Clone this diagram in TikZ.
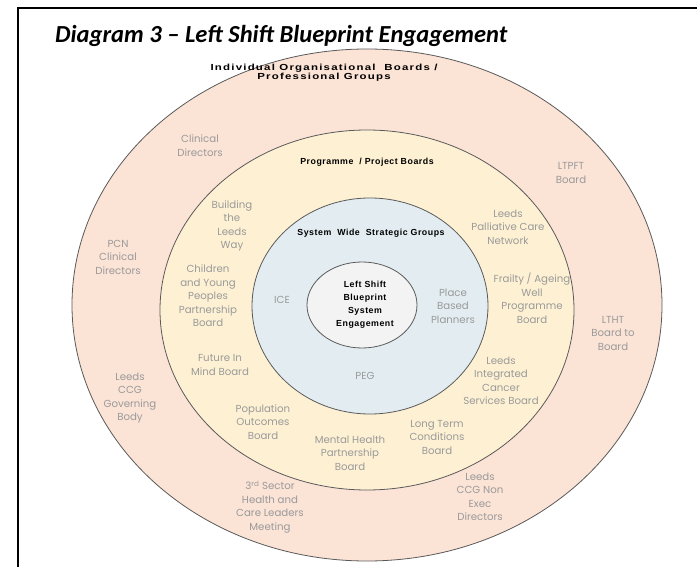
\documentclass[tikz,border=0pt]{standalone}
\usepackage{fontspec}
\setmainfont{Poppins}
\newfontfamily\titlefont{Carlito}
\newfontfamily\headfont[LetterSpace=6]{Liberation Sans}
\newfontfamily\wideheadfont[LetterSpace=14, FakeStretch=1.3]{Liberation Sans}
\definecolor{cpeach}{HTML}{FBE3D6}
\definecolor{ccream}{HTML}{FEF1D3}
\definecolor{cice}{HTML}{E3EDF1}
\definecolor{ccore}{HTML}{F3F3F3}
\definecolor{cline}{HTML}{5A5A5A}
\definecolor{clabel}{HTML}{9A9A9A}

\begin{document}
\begin{tikzpicture}[x=1pt, y=-1pt,
  ring/.style={draw=cline, line width=0.8pt},
  lbl/.style={text=clabel, align=center, inner sep=0pt, font=\fontsize{10.2}{13.5}\selectfont},
  head/.style={align=center, inner sep=0pt, font=\headfont\bfseries\fontsize{8.8}{9.5}\selectfont}]
\useasboundingbox (0,0) rectangle (697,567);
% open frame, cut at the right and at the bottom
\draw[line width=2pt] (697,8) -- (18,8) -- (18,567);
\node[anchor=west, inner sep=0pt, font=\titlefont\bfseries\itshape\fontsize{24.5}{28}\selectfont]
  (title) at (55,36) {Diagram 3 – Left Shift Blueprint Engagement};

%% ------------------------------------------------------------------ rings
\draw[ring, fill=cpeach] (367,305) ellipse [x radius=295pt, y radius=256pt];
\draw[ring, fill=ccream] (367,310) ellipse [x radius=207pt, y radius=180pt];
\draw[ring, fill=cice] (370,306) ellipse [x radius=118pt, y radius=108pt];
\draw[ring, fill=ccore] (362,305) ellipse [x radius=55pt, y radius=43pt];

%% ------------------------------------------------------------------ outer ring
\node[head, font=\wideheadfont\bfseries\fontsize{8.8}{9.5}\selectfont] (orgs) at (324,72.5)
  {Individual Organisational\ \ Boards /\\ Professional Groups};
\node[lbl] (clindir) at (200,145.5) {Clinical\\ Directors};
\node[lbl] (ltpft) at (571,173) {LTPFT\\ Board};
\node[lbl] (pcn) at (118,257) {PCN\\ Clinical\\ Directors};
\node[lbl] (ltht) at (613,333) {LTHT\\ Board to\\ Board};
\node[lbl] (ccggov) at (130,398) {Leeds\\ CCG\\ Governing\\ Body};
\node[lbl] (thirdsec) at (270,507) {3\textsuperscript{rd} Sector\\ Health and\\ Care Leaders\\ Meeting};
\node[lbl] (ccgnon) at (480,497) {Leeds\\ CCG Non\\ Exec\\ Directors};

%% ------------------------------------------------------------------ programme ring
\node[head] (progs) at (367,162) {Programme\ \ / Project Boards};
\node[lbl] (leedsway) at (232,226) {Building\\ the\\ Leeds\\ Way};
\node[lbl] (palliative) at (508,227) {Leeds\\ Palliative Care\\ Network};
\node[lbl] (cyp) at (208,296) {Children\\ and Young\\ Peoples\\ Partnership\\ Board};
\node[lbl] (frailty) at (532,298) {Frailty / Ageing\\ Well\\ Programme\\ Board};
\node[lbl] (fim) at (220,365) {Future In\\ Mind Board};
\node[lbl] (cancer) at (501,381) {Leeds\\ Integrated\\ Cancer\\ Services Board};
\node[lbl] (popout) at (263,422) {Population\\ Outcomes\\ Board};
\node[lbl] (mhp) at (350,453) {Mental Health\\ Partnership\\ Board};
\node[lbl] (ltc) at (437,437) {Long Term\\ Conditions\\ Board};

%% ------------------------------------------------------------------ strategic ring
\node[head] (swsg) at (371,233) {System\ \ Wide\ \ Strategic Groups};
\node[lbl] (ice) at (282,300) {ICE};
\node[lbl] (place) at (453,306) {Place\\ Based\\ Planners};
\node[lbl] (peg) at (365,376) {PEG};

%% ------------------------------------------------------------------ core
\node[head, font=\headfont\bfseries\fontsize{8.8}{13}\selectfont] (core) at (365,305)
  {Left Shift\\ Blueprint\\ System\\ Engagement};
\end{tikzpicture}
\end{document}
